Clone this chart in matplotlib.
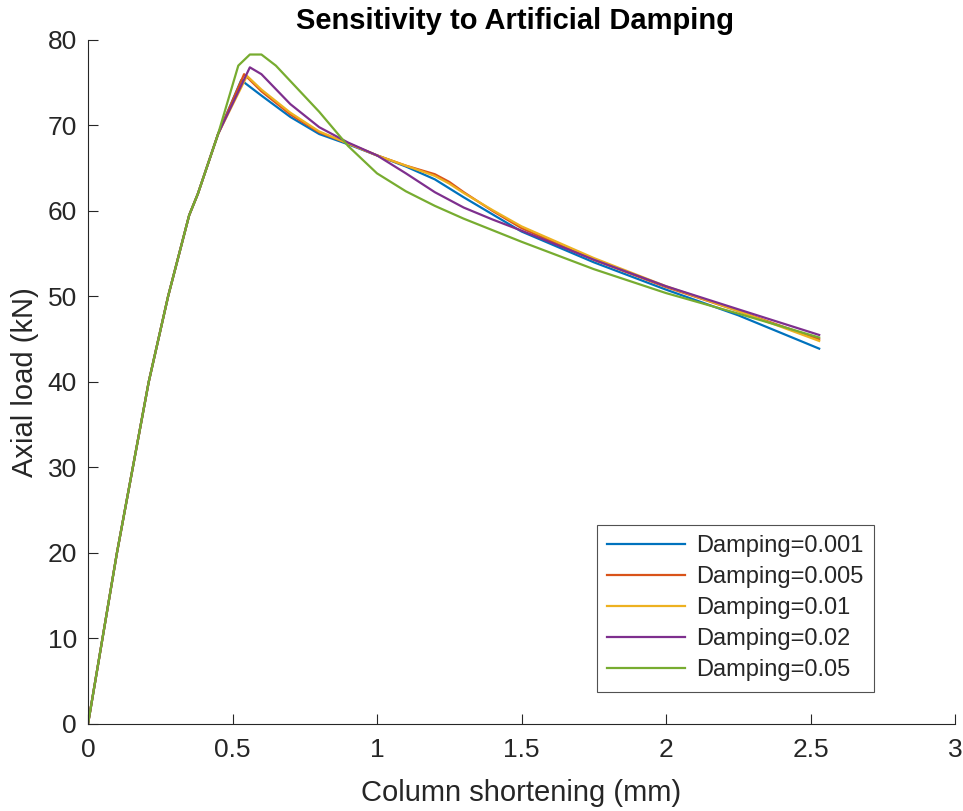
import matplotlib
matplotlib.use('Agg')
import matplotlib.pyplot as plt

plt.rcParams['font.family'] = ['Liberation Sans', 'DejaVu Sans']

labels = ['Damping=0.001', 'Damping=0.005', 'Damping=0.01', 'Damping=0.02', 'Damping=0.05']
colors = ['#0072BD', '#D95319', '#EDB120', '#7E2F8E', '#77AC30']

# shared elastic rise
rise_x = [0, 0.05, 0.1, 0.155, 0.21, 0.277, 0.35, 0.38, 0.45]
rise_y = [0, 10, 20, 30, 40, 50, 59.5, 62, 69]

d001_x = [0.53, 0.6, 0.7, 0.8, 0.9, 1.0, 1.1, 1.2, 1.3, 1.4, 1.5, 1.75, 2.0, 2.25, 2.53]
d001_y = [75.3, 73.5, 71.0, 69.0, 67.8, 66.5, 65.2, 63.7, 61.6, 59.6, 57.6, 54.0, 50.8, 47.8, 43.9]

d005_x = [0.54, 0.6, 0.7, 0.8, 0.9, 1.0, 1.1, 1.2, 1.25, 1.3, 1.4, 1.5, 1.75, 2.0, 2.25, 2.53]
d005_y = [76.0, 74.0, 71.3, 69.2, 67.9, 66.5, 65.3, 64.3, 63.4, 62.2, 60.0, 58.0, 54.3, 51.1, 48.3, 45.0]

d01_x = [0.55, 0.6, 0.7, 0.8, 0.9, 1.0, 1.1, 1.2, 1.25, 1.3, 1.4, 1.5, 1.75, 2.0, 2.25, 2.53]
d01_y = [75.8, 74.2, 71.5, 69.3, 67.9, 66.5, 65.3, 64.1, 63.2, 62.1, 60.1, 58.2, 54.5, 51.2, 48.3, 44.8]

d02_x = [0.56, 0.6, 0.7, 0.8, 0.9, 1.0, 1.1, 1.2, 1.3, 1.4, 1.5, 1.75, 2.0, 2.25, 2.53]
d02_y = [76.8, 76.0, 72.5, 69.8, 68.0, 66.5, 64.4, 62.2, 60.4, 59.0, 57.7, 54.3, 51.2, 48.5, 45.5]

d05_x = [0.52, 0.56, 0.6, 0.65, 0.7, 0.8, 0.9, 1.0, 1.1, 1.2, 1.3, 1.5, 1.75, 2.0, 2.25, 2.53]
d05_y = [77.0, 78.3, 78.3, 77.0, 75.2, 71.6, 67.6, 64.4, 62.3, 60.6, 59.1, 56.4, 53.2, 50.4, 48.0, 45.2]

series_x = [d001_x, d005_x, d01_x, d02_x, d05_x]
series_y = [d001_y, d005_y, d01_y, d02_y, d05_y]

ink = '#262626'

fig = plt.figure(figsize=(9.63, 8.11), dpi=100)
ax = fig.add_axes([0.0914, 0.1073, 0.9003, 0.8434])

for xs, ys, c, lab in zip(series_x, series_y, colors, labels):
    ax.plot(rise_x + xs, rise_y + ys, color=c, lw=1.6, label=lab)

ax.set_xlim(0, 3)
ax.set_ylim(0, 80)
ax.set_xticks([0, 0.5, 1, 1.5, 2, 2.5, 3])
ax.set_xticklabels(['0', '0.5', '1', '1.5', '2', '2.5', '3'])
ax.set_yticks(range(0, 81, 10))
ax.spines['top'].set_visible(False)
ax.spines['right'].set_visible(False)
for s in ['left', 'bottom']:
    ax.spines[s].set_color(ink)
ax.tick_params(direction='in', length=7, labelsize=19, width=0.8, pad=8,
               colors=ink)
ax.tick_params(axis='x', pad=10)

ax.set_xlabel('Column shortening (mm)', fontsize=21, labelpad=12, color=ink)
ax.set_ylabel('Axial load (kN)', fontsize=21, labelpad=6, color=ink)
ax.set_title('Sensitivity to Artificial Damping', fontsize=21, fontweight='bold',
             pad=8, color='black', x=0.492)

leg = ax.legend(loc='lower right', bbox_to_anchor=(0.92, 0.03), fontsize=17,
                frameon=True, fancybox=False, edgecolor=ink,
                handlelength=3.3, borderpad=0.45, labelspacing=0.38, handletextpad=0.45)
leg.get_frame().set_linewidth(0.8)
for t in leg.get_texts():
    t.set_color(ink)

fig.savefig('out.png', dpi=100)
